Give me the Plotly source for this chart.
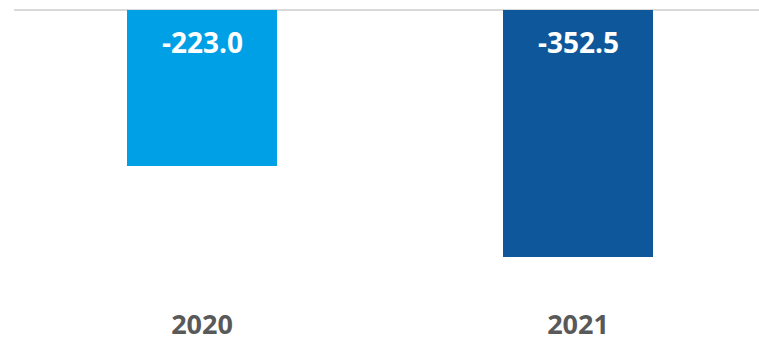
import plotly.graph_objects as go

# Annual values
years = ["2020", "2021"]
values = [-223.0, -352.5]
colors = ["#00A0E6", "#0E579B"]

fig = go.Figure()
fig.add_trace(go.Bar(
    x=years,
    y=values,
    marker=dict(color=colors, line=dict(width=0)),
    width=0.4,
    hoverinfo="skip",
))

# Value labels just inside the top of each bar (x given as category index)
for i, v in enumerate(values):
    fig.add_annotation(
        x=i, y=0.964, xref="x", yref="paper",
        text=f"{v:.1f}",
        showarrow=False,
        font=dict(family="Open Sans", size=28, color="white", weight="bold"),
    )

fig.update_layout(
    width=759, height=344,
    margin=dict(l=14, r=0, t=10, b=38),
    paper_bgcolor="white",
    plot_bgcolor="white",
    showlegend=False,
    bargap=0,
    xaxis=dict(
        type="category",
        range=[-0.5, 1.4814],
        showgrid=False,
        showline=False,
        ticks="",
        ticklabelstandoff=0,
        automargin=False,
        tickfont=dict(family="Open Sans", size=27, color="#595959", weight="bold"),
    ),
    yaxis=dict(
        range=[-422.86, 0],
        showgrid=False,
        showticklabels=False,
        zeroline=True,
        zerolinecolor="#D9D9D9",
        zerolinewidth=2,
        showline=False,
        ticks="",
        automargin=False,
    ),
)

fig.write_html("out.html")
